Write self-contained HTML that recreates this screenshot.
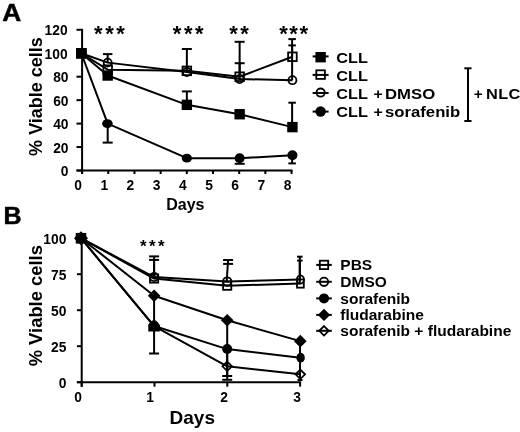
<!DOCTYPE html>
<html><head><meta charset="utf-8"><title>Viable cells</title>
<style>
html,body{margin:0;padding:0;background:#fff;}
svg{display:block;}
text{font-family:'Liberation Sans', Arial, sans-serif;font-weight:bold;fill:#000;}
</style></head>
<body>
<svg width="520" height="432" viewBox="0 0 520 432">
<rect width="520" height="432" fill="#fff"/>
<line x1="82.10" y1="28.80" x2="82.10" y2="174.00" stroke="#000" stroke-width="2.0"/>
<line x1="76.50" y1="170.50" x2="292.54" y2="170.50" stroke="#000" stroke-width="2.0"/>
<line x1="76.50" y1="170.50" x2="82.10" y2="170.50" stroke="#000" stroke-width="2.0"/>
<line x1="76.50" y1="147.05" x2="82.10" y2="147.05" stroke="#000" stroke-width="2.0"/>
<line x1="76.50" y1="123.60" x2="82.10" y2="123.60" stroke="#000" stroke-width="2.0"/>
<line x1="76.50" y1="100.15" x2="82.10" y2="100.15" stroke="#000" stroke-width="2.0"/>
<line x1="76.50" y1="76.70" x2="82.10" y2="76.70" stroke="#000" stroke-width="2.0"/>
<line x1="76.50" y1="53.25" x2="82.10" y2="53.25" stroke="#000" stroke-width="2.0"/>
<line x1="76.50" y1="29.80" x2="82.10" y2="29.80" stroke="#000" stroke-width="2.0"/>
<line x1="82.10" y1="170.50" x2="82.10" y2="174.00" stroke="#000" stroke-width="2.0"/>
<line x1="108.28" y1="170.50" x2="108.28" y2="174.00" stroke="#000" stroke-width="2.0"/>
<line x1="134.46" y1="170.50" x2="134.46" y2="174.00" stroke="#000" stroke-width="2.0"/>
<line x1="160.64" y1="170.50" x2="160.64" y2="174.00" stroke="#000" stroke-width="2.0"/>
<line x1="186.82" y1="170.50" x2="186.82" y2="174.00" stroke="#000" stroke-width="2.0"/>
<line x1="213.00" y1="170.50" x2="213.00" y2="174.00" stroke="#000" stroke-width="2.0"/>
<line x1="239.18" y1="170.50" x2="239.18" y2="174.00" stroke="#000" stroke-width="2.0"/>
<line x1="265.36" y1="170.50" x2="265.36" y2="174.00" stroke="#000" stroke-width="2.0"/>
<line x1="291.54" y1="170.50" x2="291.54" y2="174.00" stroke="#000" stroke-width="2.0"/>
<text x="68.50" y="176.10" font-size="13.8" text-anchor="end" >0</text>
<text x="68.50" y="152.65" font-size="13.8" text-anchor="end" >20</text>
<text x="68.50" y="129.20" font-size="13.8" text-anchor="end" >40</text>
<text x="68.50" y="105.75" font-size="13.8" text-anchor="end" >60</text>
<text x="68.50" y="82.30" font-size="13.8" text-anchor="end" >80</text>
<text x="67.60" y="58.85" font-size="13.8" text-anchor="end" >100</text>
<text x="67.60" y="35.40" font-size="13.8" text-anchor="end" >120</text>
<text x="78.10" y="189.80" font-size="13.8" text-anchor="middle" >0</text>
<text x="104.28" y="189.80" font-size="13.8" text-anchor="middle" >1</text>
<text x="130.46" y="189.80" font-size="13.8" text-anchor="middle" >2</text>
<text x="156.64" y="189.80" font-size="13.8" text-anchor="middle" >3</text>
<text x="182.82" y="189.80" font-size="13.8" text-anchor="middle" >4</text>
<text x="209.00" y="189.80" font-size="13.8" text-anchor="middle" >5</text>
<text x="235.18" y="189.80" font-size="13.8" text-anchor="middle" >6</text>
<text x="261.36" y="189.80" font-size="13.8" text-anchor="middle" >7</text>
<text x="287.54" y="189.80" font-size="13.8" text-anchor="middle" >8</text>
<text x="185.30" y="210.30" font-size="16" text-anchor="middle" >Days</text>
<text transform="translate(42.4,96.5) rotate(-90)" x="0" y="0" font-size="18" text-anchor="middle">% Viable cells</text>
<text transform="translate(2.20,20.50) scale(1.07,1)" font-size="24.6" text-anchor="start" stroke="#000" stroke-width="0.5">A</text>
<line x1="107.69" y1="62.63" x2="107.69" y2="54.10" stroke="#000" stroke-width="2.0"/>
<line x1="102.99" y1="54.10" x2="112.39" y2="54.10" stroke="#000" stroke-width="2.0"/>
<line x1="107.69" y1="123.60" x2="107.69" y2="142.60" stroke="#000" stroke-width="2.0"/>
<line x1="102.69" y1="142.60" x2="112.69" y2="142.60" stroke="#000" stroke-width="2.0"/>
<line x1="186.86" y1="70.84" x2="186.86" y2="49.00" stroke="#000" stroke-width="2.0"/>
<line x1="181.86" y1="49.00" x2="191.86" y2="49.00" stroke="#000" stroke-width="2.0"/>
<line x1="186.86" y1="104.84" x2="186.86" y2="91.40" stroke="#000" stroke-width="2.0"/>
<line x1="181.86" y1="91.40" x2="191.86" y2="91.40" stroke="#000" stroke-width="2.0"/>
<line x1="239.64" y1="76.70" x2="239.64" y2="41.80" stroke="#000" stroke-width="2.0"/>
<line x1="234.64" y1="41.80" x2="244.64" y2="41.80" stroke="#000" stroke-width="2.0"/>
<line x1="239.64" y1="79.04" x2="239.64" y2="63.20" stroke="#000" stroke-width="2.0"/>
<line x1="234.64" y1="63.20" x2="244.64" y2="63.20" stroke="#000" stroke-width="2.0"/>
<line x1="239.64" y1="157.60" x2="239.64" y2="163.80" stroke="#000" stroke-width="2.0"/>
<line x1="234.64" y1="163.80" x2="244.64" y2="163.80" stroke="#000" stroke-width="2.0"/>
<line x1="292.12" y1="56.77" x2="292.12" y2="39.10" stroke="#000" stroke-width="2.0"/>
<line x1="288.37" y1="39.10" x2="295.87" y2="39.10" stroke="#000" stroke-width="2.0"/>
<line x1="292.12" y1="80.22" x2="292.12" y2="45.40" stroke="#000" stroke-width="2.0"/>
<line x1="288.37" y1="45.40" x2="295.87" y2="45.40" stroke="#000" stroke-width="2.0"/>
<line x1="292.12" y1="127.12" x2="292.12" y2="102.70" stroke="#000" stroke-width="2.0"/>
<line x1="288.37" y1="102.70" x2="295.87" y2="102.70" stroke="#000" stroke-width="2.0"/>
<line x1="292.12" y1="155.26" x2="292.12" y2="163.40" stroke="#000" stroke-width="2.0"/>
<line x1="288.37" y1="163.40" x2="295.87" y2="163.40" stroke="#000" stroke-width="2.0"/>
<polyline points="81.30,53.25 107.69,75.53 186.86,104.84 239.64,114.22 292.42,127.12" fill="none" stroke="#000" stroke-width="2.0" stroke-linejoin="round"/>
<polyline points="81.30,53.25 107.69,69.66 186.86,70.84 239.64,76.70 292.42,56.77" fill="none" stroke="#000" stroke-width="2.0" stroke-linejoin="round"/>
<polyline points="81.30,53.25 107.69,62.63 186.86,72.01 239.64,79.04 292.42,80.22" fill="none" stroke="#000" stroke-width="2.0" stroke-linejoin="round"/>
<polyline points="81.30,53.25 107.69,123.60 186.86,158.19 239.64,158.19 292.42,155.26" fill="none" stroke="#000" stroke-width="2.0" stroke-linejoin="round"/>
<ellipse cx="81.30" cy="53.25" rx="5" ry="5" fill="#000"/>
<ellipse cx="107.39" cy="123.60" rx="5.3" ry="4.3" fill="#000"/>
<ellipse cx="186.86" cy="158.19" rx="5.1" ry="4.4" fill="#000"/>
<ellipse cx="239.64" cy="158.19" rx="5" ry="5" fill="#000"/>
<ellipse cx="292.42" cy="155.26" rx="5" ry="5" fill="#000"/>
<rect x="76.10" y="48.05" width="10.40" height="10.40" fill="#000"/>
<rect x="102.49" y="70.33" width="10.40" height="10.40" fill="#000"/>
<rect x="181.66" y="99.64" width="10.40" height="10.40" fill="#000"/>
<rect x="234.44" y="109.02" width="10.40" height="10.40" fill="#000"/>
<rect x="287.22" y="121.92" width="10.40" height="10.40" fill="#000"/>
<ellipse cx="81.30" cy="53.25" rx="4.00" ry="4.00" fill="none" stroke="#000" stroke-width="1.8"/>
<ellipse cx="107.69" cy="62.63" rx="4.00" ry="4.00" fill="none" stroke="#000" stroke-width="1.8"/>
<ellipse cx="186.86" cy="72.01" rx="4.00" ry="4.00" fill="none" stroke="#000" stroke-width="1.8"/>
<ellipse cx="239.64" cy="79.04" rx="4.00" ry="4.00" fill="none" stroke="#000" stroke-width="1.8"/>
<ellipse cx="292.42" cy="80.22" rx="4.00" ry="4.00" fill="none" stroke="#000" stroke-width="1.8"/>
<rect x="77.00" y="48.95" width="8.60" height="8.60" fill="none" stroke="#000" stroke-width="1.8"/>
<rect x="103.39" y="65.36" width="8.60" height="8.60" fill="none" stroke="#000" stroke-width="1.8"/>
<rect x="182.56" y="66.54" width="8.60" height="8.60" fill="none" stroke="#000" stroke-width="1.8"/>
<rect x="235.34" y="72.40" width="8.60" height="8.60" fill="none" stroke="#000" stroke-width="1.8"/>
<rect x="288.12" y="52.47" width="8.60" height="8.60" fill="none" stroke="#000" stroke-width="1.8"/>
<rect x="76.10" y="48.05" width="10.40" height="10.40" fill="#000"/>
<text x="110.69" y="41.30" font-size="22" text-anchor="middle" letter-spacing="2.5">***</text>
<text x="189.46" y="41.30" font-size="22" text-anchor="middle" letter-spacing="2.5">***</text>
<text x="240.24" y="41.30" font-size="22" text-anchor="middle" letter-spacing="2.5">**</text>
<text x="294.42" y="41.30" font-size="22" text-anchor="middle" letter-spacing="1.6">***</text>
<line x1="312.60" y1="56.40" x2="328.60" y2="56.40" stroke="#000" stroke-width="2.0"/>
<line x1="312.60" y1="74.90" x2="328.60" y2="74.90" stroke="#000" stroke-width="2.0"/>
<line x1="312.60" y1="93.00" x2="328.60" y2="93.00" stroke="#000" stroke-width="2.0"/>
<line x1="312.60" y1="111.60" x2="328.60" y2="111.60" stroke="#000" stroke-width="2.0"/>
<ellipse cx="320.60" cy="111.50" rx="5.2" ry="5.2" fill="#000"/>
<ellipse cx="320.60" cy="92.60" rx="4.10" ry="4.10" fill="none" stroke="#000" stroke-width="1.8"/>
<rect x="316.30" y="70.30" width="8.60" height="8.60" fill="none" stroke="#000" stroke-width="1.8"/>
<rect x="315.40" y="52.00" width="10.40" height="10.40" fill="#000"/>
<text transform="translate(336.20,62.80) scale(1.085,1)" font-size="15" text-anchor="start" >CLL</text>
<text transform="translate(336.20,80.90) scale(1.085,1)" font-size="15" text-anchor="start" >CLL</text>
<text transform="translate(336.20,99.40) scale(1.085,1)" font-size="15" text-anchor="start" >CLL</text>
<text transform="translate(373.60,99.40) scale(1.05,1)" font-size="15" text-anchor="start" >+</text>
<text transform="translate(385.00,99.40) scale(1.115,1)" font-size="15" text-anchor="start" >DMSO</text>
<text transform="translate(336.20,117.30) scale(1.085,1)" font-size="15" text-anchor="start" >CLL</text>
<text transform="translate(373.60,117.30) scale(1.05,1)" font-size="15" text-anchor="start" >+</text>
<text transform="translate(385.00,117.30) scale(1.115,1)" font-size="15" text-anchor="start" >sorafenib</text>
<line x1="468.00" y1="68.30" x2="468.00" y2="121.00" stroke="#000" stroke-width="2.0"/>
<line x1="464.30" y1="68.30" x2="471.50" y2="68.30" stroke="#000" stroke-width="2.0"/>
<line x1="464.30" y1="121.00" x2="471.50" y2="121.00" stroke="#000" stroke-width="2.0"/>
<text transform="translate(473.70,98.80) scale(1.05,1)" font-size="14.6" text-anchor="start" >+</text>
<text transform="translate(486.00,98.80) scale(1.12,1)" font-size="14.6" text-anchor="start" letter-spacing="0.3">NLC</text>
<line x1="81.70" y1="238.20" x2="81.70" y2="386.70" stroke="#000" stroke-width="2.0"/>
<line x1="76.90" y1="382.20" x2="301.10" y2="382.20" stroke="#000" stroke-width="2.0"/>
<line x1="76.90" y1="382.20" x2="81.70" y2="382.20" stroke="#000" stroke-width="2.0"/>
<line x1="76.90" y1="346.20" x2="81.70" y2="346.20" stroke="#000" stroke-width="2.0"/>
<line x1="76.90" y1="310.20" x2="81.70" y2="310.20" stroke="#000" stroke-width="2.0"/>
<line x1="76.90" y1="274.20" x2="81.70" y2="274.20" stroke="#000" stroke-width="2.0"/>
<line x1="76.90" y1="238.20" x2="81.70" y2="238.20" stroke="#000" stroke-width="2.0"/>
<line x1="81.70" y1="382.20" x2="81.70" y2="386.70" stroke="#000" stroke-width="2.0"/>
<line x1="154.50" y1="382.20" x2="154.50" y2="386.70" stroke="#000" stroke-width="2.0"/>
<line x1="227.30" y1="382.20" x2="227.30" y2="386.70" stroke="#000" stroke-width="2.0"/>
<line x1="300.10" y1="382.20" x2="300.10" y2="386.70" stroke="#000" stroke-width="2.0"/>
<text x="66.40" y="387.90" font-size="13.8" text-anchor="end" >0</text>
<text x="66.40" y="351.90" font-size="13.8" text-anchor="end" >25</text>
<text x="66.40" y="315.90" font-size="13.8" text-anchor="end" >50</text>
<text x="66.40" y="279.90" font-size="13.8" text-anchor="end" >75</text>
<text x="66.40" y="243.90" font-size="13.8" text-anchor="end" >100</text>
<text x="78.10" y="401.70" font-size="13.8" text-anchor="middle" >0</text>
<text x="150.20" y="401.70" font-size="13.8" text-anchor="middle" >1</text>
<text x="224.00" y="401.70" font-size="13.8" text-anchor="middle" >2</text>
<text x="297.10" y="401.70" font-size="13.8" text-anchor="middle" >3</text>
<text x="192.30" y="424.20" font-size="19" text-anchor="middle" >Days</text>
<text transform="translate(42.4,305.7) rotate(-90)" x="0" y="0" font-size="18.4" text-anchor="middle">% Viable cells</text>
<text transform="translate(3.60,223.60) scale(1.06,1)" font-size="23.6" text-anchor="start" stroke="#000" stroke-width="0.5">B</text>
<line x1="154.10" y1="277.08" x2="154.10" y2="256.40" stroke="#000" stroke-width="2.0"/>
<line x1="149.10" y1="256.40" x2="159.10" y2="256.40" stroke="#000" stroke-width="2.0"/>
<line x1="154.10" y1="278.52" x2="154.10" y2="259.90" stroke="#000" stroke-width="2.0"/>
<line x1="149.10" y1="259.90" x2="159.10" y2="259.90" stroke="#000" stroke-width="2.0"/>
<line x1="154.10" y1="295.80" x2="154.10" y2="353.50" stroke="#000" stroke-width="2.0"/>
<line x1="149.10" y1="353.50" x2="159.10" y2="353.50" stroke="#000" stroke-width="2.0"/>
<line x1="226.70" y1="281.40" x2="228.10" y2="260.00" stroke="#000" stroke-width="2.0"/>
<line x1="223.10" y1="260.00" x2="233.10" y2="260.00" stroke="#000" stroke-width="2.0"/>
<line x1="223.10" y1="263.90" x2="233.10" y2="263.90" stroke="#000" stroke-width="2.0"/>
<line x1="227.20" y1="320.28" x2="227.20" y2="376.00" stroke="#000" stroke-width="2.0"/>
<line x1="222.20" y1="376.00" x2="232.20" y2="376.00" stroke="#000" stroke-width="2.0"/>
<line x1="227.20" y1="349.08" x2="227.20" y2="379.80" stroke="#000" stroke-width="2.0"/>
<line x1="222.20" y1="379.80" x2="232.20" y2="379.80" stroke="#000" stroke-width="2.0"/>
<line x1="299.80" y1="279.96" x2="299.80" y2="256.70" stroke="#000" stroke-width="2.0"/>
<line x1="297.05" y1="256.70" x2="302.55" y2="256.70" stroke="#000" stroke-width="2.0"/>
<line x1="299.80" y1="283.56" x2="299.80" y2="260.60" stroke="#000" stroke-width="2.0"/>
<line x1="297.05" y1="260.60" x2="302.55" y2="260.60" stroke="#000" stroke-width="2.0"/>
<line x1="300.00" y1="341.16" x2="300.00" y2="380.00" stroke="#000" stroke-width="2.0"/>
<line x1="297.50" y1="380.00" x2="302.50" y2="380.00" stroke="#000" stroke-width="2.0"/>
<polyline points="81.00,238.20 154.10,278.52 227.20,285.72 300.30,283.56" fill="none" stroke="#000" stroke-width="2.0" stroke-linejoin="round"/>
<polyline points="81.00,238.20 154.10,277.08 227.20,281.40 300.30,279.53" fill="none" stroke="#000" stroke-width="2.0" stroke-linejoin="round"/>
<polyline points="81.00,238.20 154.10,326.04 227.20,349.08 300.30,357.72" fill="none" stroke="#000" stroke-width="2.0" stroke-linejoin="round"/>
<polyline points="81.00,238.20 154.10,295.80 227.20,320.28 300.30,341.16" fill="none" stroke="#000" stroke-width="2.0" stroke-linejoin="round"/>
<polyline points="81.00,238.20 154.10,326.04 227.20,366.36 300.30,374.28" fill="none" stroke="#000" stroke-width="2.0" stroke-linejoin="round"/>
<polygon points="81.00,233.46 85.74,238.20 81.00,242.94 76.26,238.20" fill="none" stroke="#000" stroke-width="1.8"/>
<polygon points="154.10,321.30 158.84,326.04 154.10,330.78 149.36,326.04" fill="none" stroke="#000" stroke-width="1.8"/>
<polygon points="227.20,361.62 231.94,366.36 227.20,371.10 222.46,366.36" fill="none" stroke="#000" stroke-width="1.8"/>
<polygon points="300.30,369.54 305.04,374.28 300.30,379.02 295.56,374.28" fill="none" stroke="#000" stroke-width="1.8"/>
<ellipse cx="81.00" cy="238.20" rx="5" ry="5" fill="#000"/>
<ellipse cx="154.10" cy="326.04" rx="5" ry="5" fill="#000"/>
<ellipse cx="227.20" cy="349.08" rx="5" ry="5" fill="#000"/>
<ellipse cx="300.60" cy="357.72" rx="4.2" ry="4.9" fill="#000"/>
<polygon points="81.00,231.90 87.30,238.20 81.00,244.50 74.70,238.20" fill="#000"/>
<polygon points="154.10,289.50 160.40,295.80 154.10,302.10 147.80,295.80" fill="#000"/>
<polygon points="227.20,313.98 233.50,320.28 227.20,326.58 220.90,320.28" fill="#000"/>
<polygon points="300.30,334.86 306.60,341.16 300.30,347.46 294.00,341.16" fill="#000"/>
<ellipse cx="81.00" cy="238.20" rx="4.10" ry="4.10" fill="none" stroke="#000" stroke-width="1.8"/>
<ellipse cx="154.10" cy="277.08" rx="4.10" ry="4.10" fill="none" stroke="#000" stroke-width="1.8"/>
<ellipse cx="227.20" cy="281.40" rx="4.10" ry="4.10" fill="none" stroke="#000" stroke-width="1.8"/>
<ellipse cx="300.40" cy="279.53" rx="3.50" ry="4.10" fill="none" stroke="#000" stroke-width="1.8"/>
<rect x="76.90" y="234.10" width="8.20" height="8.20" fill="none" stroke="#000" stroke-width="1.8"/>
<rect x="150.00" y="274.42" width="8.20" height="8.20" fill="none" stroke="#000" stroke-width="1.8"/>
<rect x="223.10" y="281.62" width="8.20" height="8.20" fill="none" stroke="#000" stroke-width="1.8"/>
<rect x="297.00" y="279.46" width="6.80" height="8.20" fill="none" stroke="#000" stroke-width="1.8"/>
<rect x="75.75" y="232.95" width="10.50" height="10.50" fill="#000"/>
<polygon points="81.00,231.20 88.00,238.20 81.00,245.20 74.00,238.20" fill="#000"/>
<ellipse cx="81.00" cy="238.20" rx="5.5" ry="5.5" fill="#000"/>
<polygon points="148.3,331.6 159.8,331.6 159.8,325.0 156.0,320.6 152.2,320.6 148.3,324.6" fill="#000"/>
<text x="153.60" y="252.00" font-size="17" text-anchor="middle" letter-spacing="2.4">***</text>
<line x1="316.20" y1="264.90" x2="331.80" y2="264.90" stroke="#000" stroke-width="2.0"/>
<line x1="316.20" y1="281.80" x2="331.80" y2="281.80" stroke="#000" stroke-width="2.0"/>
<line x1="316.20" y1="298.40" x2="331.80" y2="298.40" stroke="#000" stroke-width="2.0"/>
<line x1="316.20" y1="314.90" x2="331.80" y2="314.90" stroke="#000" stroke-width="2.0"/>
<line x1="316.20" y1="330.80" x2="331.80" y2="330.80" stroke="#000" stroke-width="2.0"/>
<rect x="319.80" y="260.70" width="8.40" height="8.40" fill="none" stroke="#000" stroke-width="1.8"/>
<ellipse cx="324.00" cy="281.80" rx="4.20" ry="4.20" fill="none" stroke="#000" stroke-width="1.8"/>
<ellipse cx="324.00" cy="298.40" rx="5.0" ry="5.0" fill="#000"/>
<polygon points="324.00,308.70 330.20,314.90 324.00,321.10 317.80,314.90" fill="#000"/>
<polygon points="324.00,326.06 328.74,330.80 324.00,335.54 319.26,330.80" fill="none" stroke="#000" stroke-width="1.8"/>
<text x="340.30" y="270.40" font-size="15.5" text-anchor="start" >PBS</text>
<text x="340.30" y="287.30" font-size="15.5" text-anchor="start" >DMSO</text>
<text x="340.30" y="303.90" font-size="15.5" text-anchor="start" >sorafenib</text>
<text x="340.30" y="320.40" font-size="15.5" text-anchor="start" >fludarabine</text>
<text x="340.30" y="336.30" font-size="15.5" text-anchor="start" >sorafenib + fludarabine</text>
</svg>
</body></html>
